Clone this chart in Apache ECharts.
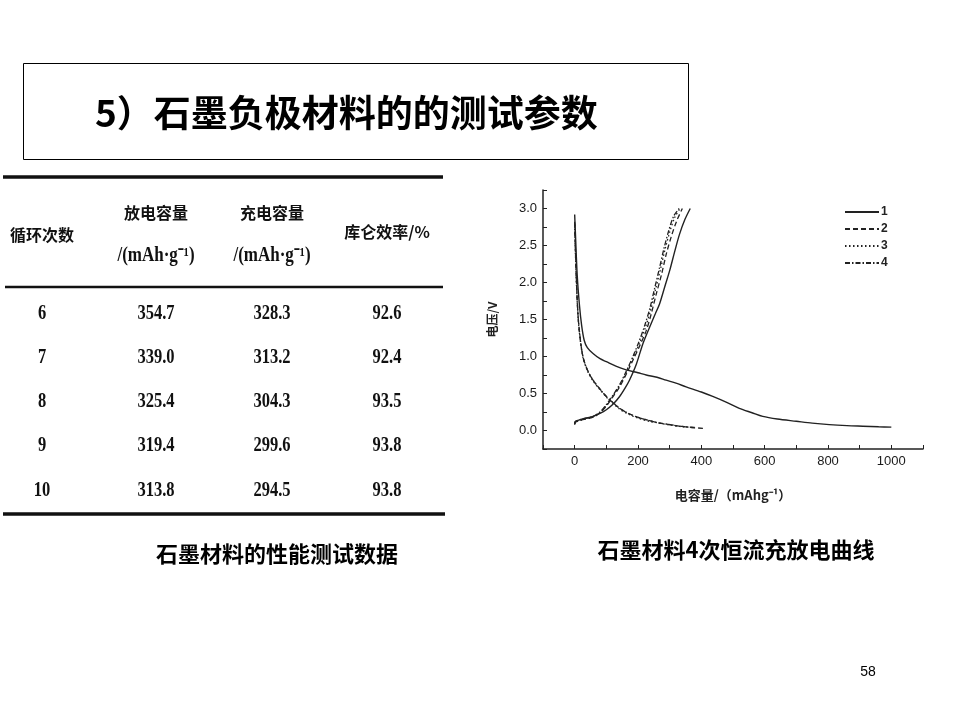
<!DOCTYPE html>
<html>
<head>
<meta charset="utf-8">
<script src="https://cdn.jsdelivr.net/npm/echarts@6/dist/echarts.min.js"></script>
<style>
  html, body { margin: 0; padding: 0; background: #fff; }
  #slide { width: 960px; height: 720px; }
</style>
</head>
<body>
<div id="slide"></div>
<script>
// table values
var cycleNo = ['6', '7', '8', '9', '10'];
var dischargeCap = ['354.7', '339.0', '325.4', '319.4', '313.8'];
var chargeCap = ['328.3', '313.2', '304.3', '299.6', '294.5'];
var efficiency = ['92.6', '92.4', '93.5', '93.8', '93.8'];

// curve names
var curveNames = ['1', '2', '3', '4'];

// [capacity mAh/g, voltage V]
var discharge1 = [[0, 2.92], [3, 2.6], [8, 2.1], [15, 1.7], [22, 1.42], [30, 1.22], [40, 1.12], [58, 1.04],
  [80, 0.97], [100, 0.93], [130, 0.87], [163, 0.82], [200, 0.78], [226, 0.75], [260, 0.72], [289, 0.68],
  [320, 0.64], [352, 0.59], [400, 0.52], [436, 0.46], [480, 0.38], [520, 0.30], [560, 0.24], [594, 0.19],
  [640, 0.155], [700, 0.125], [750, 0.10], [804, 0.08], [860, 0.066], [910, 0.058], [960, 0.05], [1000, 0.045]];
var charge1 = [[0, 0.09], [2, 0.12], [20, 0.15], [58, 0.19], [80, 0.23], [100, 0.28], [120, 0.35], [142, 0.46],
  [160, 0.58], [173, 0.68], [195, 0.9], [216, 1.18], [237, 1.40], [255, 1.58], [268, 1.71], [285, 1.95],
  [300, 2.16], [316, 2.42], [331, 2.65], [348, 2.85], [365, 3.0]];

var discharge2 = [[0, 2.8], [2, 2.5], [5, 2.1], [10, 1.6], [16, 1.3], [26, 1.0], [40, 0.82], [58, 0.68],
  [80, 0.56], [100, 0.46], [120, 0.38], [142, 0.30], [170, 0.23], [205, 0.17], [240, 0.13], [268, 0.10],
  [300, 0.08], [331, 0.06], [370, 0.04], [405, 0.03]];
var charge2 = [[0, 0.08], [2, 0.11], [20, 0.14], [58, 0.18], [80, 0.24], [100, 0.33], [120, 0.45], [142, 0.59],
  [165, 0.78], [184, 0.95], [205, 1.14], [226, 1.35], [242, 1.58], [258, 1.85], [275, 2.12], [289, 2.38],
  [305, 2.62], [322, 2.83], [340, 3.0]];

var discharge3 = [[0, 2.78], [2, 2.45], [5, 2.05], [10, 1.58], [16, 1.28], [26, 0.99], [40, 0.81], [58, 0.67],
  [80, 0.55], [100, 0.45], [120, 0.37], [142, 0.29], [170, 0.22], [205, 0.16], [240, 0.12], [268, 0.10],
  [300, 0.075], [331, 0.055], [375, 0.04]];
var charge3 = [[0, 0.08], [2, 0.11], [20, 0.14], [58, 0.18], [80, 0.24], [100, 0.34], [120, 0.46], [142, 0.61],
  [165, 0.80], [184, 0.98], [205, 1.18], [224, 1.40], [240, 1.63], [255, 1.90], [271, 2.18], [285, 2.44],
  [300, 2.68], [316, 2.88], [333, 3.0]];

var discharge4 = [[0, 2.82], [2, 2.5], [5, 2.08], [10, 1.6], [16, 1.3], [26, 1.0], [40, 0.82], [58, 0.68],
  [80, 0.56], [100, 0.46], [120, 0.38], [142, 0.30], [170, 0.23], [205, 0.17], [240, 0.13], [268, 0.10],
  [300, 0.08], [331, 0.06], [380, 0.04]];
var charge4 = [[0, 0.09], [2, 0.12], [20, 0.15], [58, 0.19], [80, 0.25], [100, 0.35], [120, 0.47], [142, 0.62],
  [165, 0.82], [184, 1.0], [203, 1.2], [222, 1.43], [238, 1.66], [253, 1.93], [268, 2.2], [282, 2.46],
  [297, 2.7], [313, 2.9], [330, 3.0]];

var curveData = [[discharge1, charge1], [discharge2, charge2], [discharge3, charge3], [discharge4, charge4]];
var dashTypes = ['solid', [5, 3], [1.5, 2.5], [5, 2, 1.5, 2]];

var chart = echarts.init(document.getElementById('slide'));

var series = [];
curveNames.forEach(function (name, i) {
  curveData[i].forEach(function (pts) {
    series.push({
      name: name,
      type: 'line',
      data: pts,
      smooth: 0.3,
      symbol: 'none',
      silent: true,
      lineStyle: { color: '#222', width: i === 0 ? 1.4 : 1.3, type: dashTypes[i] },
      itemStyle: { color: '#222' }
    });
  });
});

// table + slide decorations
var cjk = '"Noto Sans CJK SC", sans-serif';
var serif = '"Liberation Serif", serif';
var colX = [42, 156, 272, 387];
var rowY = [313, 357, 401, 445, 490];
var graphics = [
  { type: 'rect', shape: { x: 23.5, y: 63.5, width: 665, height: 96 },
    style: { fill: 'none', stroke: '#000', lineWidth: 1 } },
  { type: 'text', x: 95, y: 113,
    style: { text: '5）石墨负极材料的的测试参数', font: 'bold 37px ' + cjk, fill: '#000', textVerticalAlign: 'middle' } },
  { type: 'line', shape: { x1: 3, y1: 177, x2: 443, y2: 177 }, style: { stroke: '#111', lineWidth: 3.5 } },
  { type: 'line', shape: { x1: 5, y1: 287, x2: 443, y2: 287 }, style: { stroke: '#111', lineWidth: 2.5 } },
  { type: 'line', shape: { x1: 3, y1: 514, x2: 445, y2: 514 }, style: { stroke: '#111', lineWidth: 3.5 } },
  { type: 'text', x: colX[0], y: 235, style: { text: '循环次数', font: 'bold 16px ' + cjk, fill: '#111', textAlign: 'center', textVerticalAlign: 'middle' } },
  { type: 'text', x: colX[1], y: 213, style: { text: '放电容量', font: 'bold 16px ' + cjk, fill: '#111', textAlign: 'center', textVerticalAlign: 'middle' } },
  { type: 'text', x: colX[1], y: 256, scaleX: 0.85, style: { text: '/(mAh·g⁻¹)', font: 'bold 20px ' + serif, fill: '#111', textAlign: 'center', textVerticalAlign: 'middle' } },
  { type: 'text', x: colX[2], y: 213, style: { text: '充电容量', font: 'bold 16px ' + cjk, fill: '#111', textAlign: 'center', textVerticalAlign: 'middle' } },
  { type: 'text', x: colX[2], y: 256, scaleX: 0.85, style: { text: '/(mAh·g⁻¹)', font: 'bold 20px ' + serif, fill: '#111', textAlign: 'center', textVerticalAlign: 'middle' } },
  { type: 'text', x: colX[3], y: 232, style: { text: '库仑效率/%', font: 'bold 16px ' + cjk, fill: '#111', textAlign: 'center', textVerticalAlign: 'middle' } },
  { type: 'text', x: 277, y: 554, style: { text: '石墨材料的性能测试数据', font: 'bold 22px ' + cjk, fill: '#000', textAlign: 'center', textVerticalAlign: 'middle' } },
  { type: 'text', x: 736, y: 550, style: { text: '石墨材料4次恒流充放电曲线', font: 'bold 22px ' + cjk, fill: '#000', textAlign: 'center', textVerticalAlign: 'middle' } },
  { type: 'text', x: 868, y: 672, style: { text: '58', font: '14px "Liberation Sans", sans-serif', fill: '#000', textAlign: 'center', textVerticalAlign: 'middle' } }
];
[cycleNo, dischargeCap, chargeCap, efficiency].forEach(function (col, c) {
  col.forEach(function (val, r) {
    graphics.push({
      type: 'text', x: colX[c], y: rowY[r], scaleX: 0.75,
      style: { text: val, font: 'bold 22px ' + serif, fill: '#111', textAlign: 'center', textVerticalAlign: 'middle' }
    });
  });
});

var option = {
  backgroundColor: '#fff',
  animation: false,
  grid: { left: 543, right: 37, top: 190, bottom: 271 },
  legend: {
    data: curveNames,
    orient: 'vertical',
    left: 839,
    top: 201,
    itemWidth: 34,
    itemHeight: 10,
    itemGap: 5,
    selectedMode: false,
    itemStyle: { color: 'rgba(0,0,0,0)', borderWidth: 0 },
    textStyle: { color: '#222', fontSize: 12, fontWeight: 'bold', fontFamily: 'Liberation Sans', padding: [0, 0, 0, -3] }
  },
  xAxis: {
    type: 'value',
    min: -100,
    max: 1100,
    interval: 100,
    name: '电容量/（mAhg⁻¹）',
    nameLocation: 'middle',
    nameGap: 40,
    nameTextStyle: { color: '#222', fontSize: 13, fontWeight: 'bold', fontFamily: cjk },
    axisLine: { onZero: false, lineStyle: { color: '#222', width: 1.5 } },
    axisTick: { inside: true, length: 4, lineStyle: { color: '#222' } },
    axisLabel: {
      color: '#1a1a1a', fontSize: 13, fontFamily: 'Liberation Sans', margin: 6,
      formatter: function (v) { return (v >= 0 && v % 200 === 0) ? String(v) : ''; }
    },
    splitLine: { show: false }
  },
  yAxis: {
    type: 'value',
    min: -0.25,
    max: 3.25,
    interval: 0.25,
    name: '电压/V',
    nameLocation: 'middle',
    nameRotate: 90,
    nameGap: 45,
    nameTextStyle: { color: '#222', fontSize: 12, fontWeight: 'bold', fontFamily: cjk },
    axisLine: { show: true, onZero: false, lineStyle: { color: '#222', width: 1.5 } },
    axisTick: { show: true, inside: true, length: 4, lineStyle: { color: '#222' } },
    axisLabel: {
      color: '#1a1a1a', fontSize: 13, fontFamily: 'Liberation Sans', margin: 6,
      formatter: function (v) {
        return (v >= 0 && Math.abs(v * 2 - Math.round(v * 2)) < 1e-6) ? v.toFixed(1) : '';
      }
    },
    splitLine: { show: false }
  },
  series: series,
  graphic: graphics
};

chart.setOption(option);
</script>
</body>
</html>
